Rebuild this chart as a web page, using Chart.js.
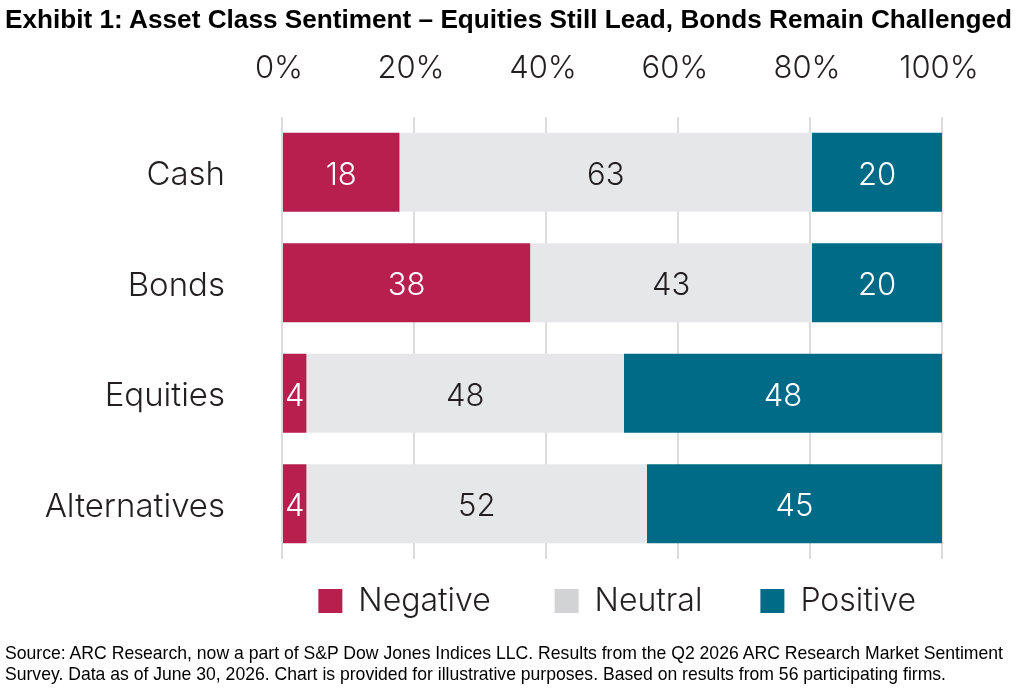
<!DOCTYPE html>
<html>
<head>
<meta charset="utf-8">
<title>Asset Class Sentiment</title>
<script src="https://cdn.jsdelivr.net/npm/chart.js@4.4.1/dist/chart.umd.min.js"></script>
<style>
  html, body { margin: 0; padding: 0; background: #fff; }
  body { width: 1017px; height: 690px; position: relative; overflow: hidden; }
  #chart { position: absolute; left: 0; top: 0; }
  .fit {
    position: absolute;
    left: 5px;
    white-space: nowrap;
    transform-origin: 0 0;
    color: #000;
    font-family: "Liberation Sans Narrow", "Liberation Sans", Arial, sans-serif;
    line-height: 1;
  }
  #title { top: 6px; font-size: 26px; font-weight: bold; }
  .note { font-size: 19px; }
</style>
</head>
<body>
<canvas id="chart" width="1017" height="690"></canvas>
<div id="title" class="fit" data-w="1007">Exhibit 1: Asset Class Sentiment – Equities Still Lead, Bonds Remain Challenged</div>
<div class="fit note" style="top:643px" data-w="998">Source: ARC Research, now a part of S&amp;P Dow Jones Indices LLC. Results from the Q2 2026 ARC Research Market Sentiment</div>
<div class="fit note" style="top:664px" data-w="941">Survey. Data as of June 30, 2026. Chart is provided for illustrative purposes. Based on results from 56 participating firms.</div>
<script>
// Данные (в процентах, подписи округляются)
const categories = ["Cash", "Bonds", "Equities", "Alternatives"];
const negative = [17.8, 37.6, 3.7, 3.7];
const neutral = [62.5, 42.7, 48.1, 51.6];
const positive = [19.7, 19.7, 48.2, 44.7];
const xTicks = [0, 20, 40, 60, 80, 100];

const TEXT = "#231f20";
const FONT = "Inter";
// Доп. отступы после подписей легенды (пробелы разной ширины)
const legendGaps = ["\u2003\u2009", "\u2003", ""];

// Подгоняем ширину заголовка и сноски под оригинал
document.querySelectorAll(".fit").forEach((el) => {
  const target = parseFloat(el.dataset.w);
  const w = el.getBoundingClientRect().width;
  el.style.transform = `scaleX(${target / w})`;
});

// Подписи значений внутри сегментов
const valueLabels = {
  id: "valueLabels",
  afterDatasetsDraw(chart) {
    const ctx = chart.ctx;
    ctx.save();
    ctx.font = `300 31px ${FONT}`;
    ctx.textAlign = "center";
    ctx.textBaseline = "middle";
    chart.data.datasets.forEach((ds, i) => {
      const meta = chart.getDatasetMeta(i);
      meta.data.forEach((bar, j) => {
        const { x, y, base } = bar.getProps(["x", "y", "base"], true);
        ctx.fillStyle = ds.labelColor;
        ctx.fillText(String(Math.round(ds.data[j])), (x + base) / 2, y + 3);
      });
    });
    ctx.restore();
  },
};

const ctx = document.getElementById("chart").getContext("2d");
new Chart(ctx, {
  type: "bar",
  data: {
    labels: categories,
    datasets: [
      {
        label: "Negative",
        data: negative,
        backgroundColor: "#b81f4f",
        legendColor: "#b81f4f",
        labelColor: "#ffffff",
      },
      {
        label: "Neutral",
        data: neutral,
        backgroundColor: "#e6e7e8",
        legendColor: "#d1d3d4",
        labelColor: TEXT,
      },
      {
        label: "Positive",
        data: positive,
        backgroundColor: "#006b86",
        legendColor: "#006b86",
        labelColor: "#ffffff",
      },
    ],
  },
  options: {
    indexAxis: "y",
    responsive: false,
    animation: false,
    categoryPercentage: 1,
    barPercentage: 0.715,
    layout: { padding: { top: 40, right: 75, bottom: 63, left: 0 } },
    scales: {
      x: {
        stacked: true,
        position: "top",
        min: 0,
        max: 100,
        afterBuildTicks: (scale) => {
          scale.ticks = xTicks.map((v) => ({ value: v }));
        },
        afterFit: (scale) => {
          scale.height = 77;
        },
        grid: { color: "#dcdcdc", lineWidth: 2, drawTicks: false },
        border: { display: false },
        ticks: {
          padding: 30,
          labelOffset: -3,
          color: TEXT,
          font: { family: FONT, size: 31, weight: 300 },
          callback: (v) => v + "%",
        },
      },
      y: {
        stacked: true,
        afterFit: (scale) => {
          scale.width = 282;
        },
        grid: { display: false, drawTicks: false },
        border: { display: false },
        ticks: {
          padding: 57,
          labelOffset: 3,
          color: TEXT,
          font: { family: FONT, size: 33, weight: 300 },
        },
      },
    },
    plugins: {
      tooltip: { enabled: false },
      legend: {
        position: "bottom",
        align: "end",
        fullSize: false,
        labels: {
          boxWidth: 24,
          boxHeight: 24,
          padding: 26,
          color: TEXT,
          font: { family: FONT, size: 32, weight: 300 },
          generateLabels: (chart) =>
            chart.data.datasets.map((ds, i) => ({
              text: ds.label + legendGaps[i],
              fillStyle: ds.legendColor,
              strokeStyle: ds.legendColor,
              lineWidth: 0,
              fontColor: TEXT,
              datasetIndex: i,
            })),
        },
      },
    },
  },
  plugins: [valueLabels],
});
</script>
</body>
</html>
